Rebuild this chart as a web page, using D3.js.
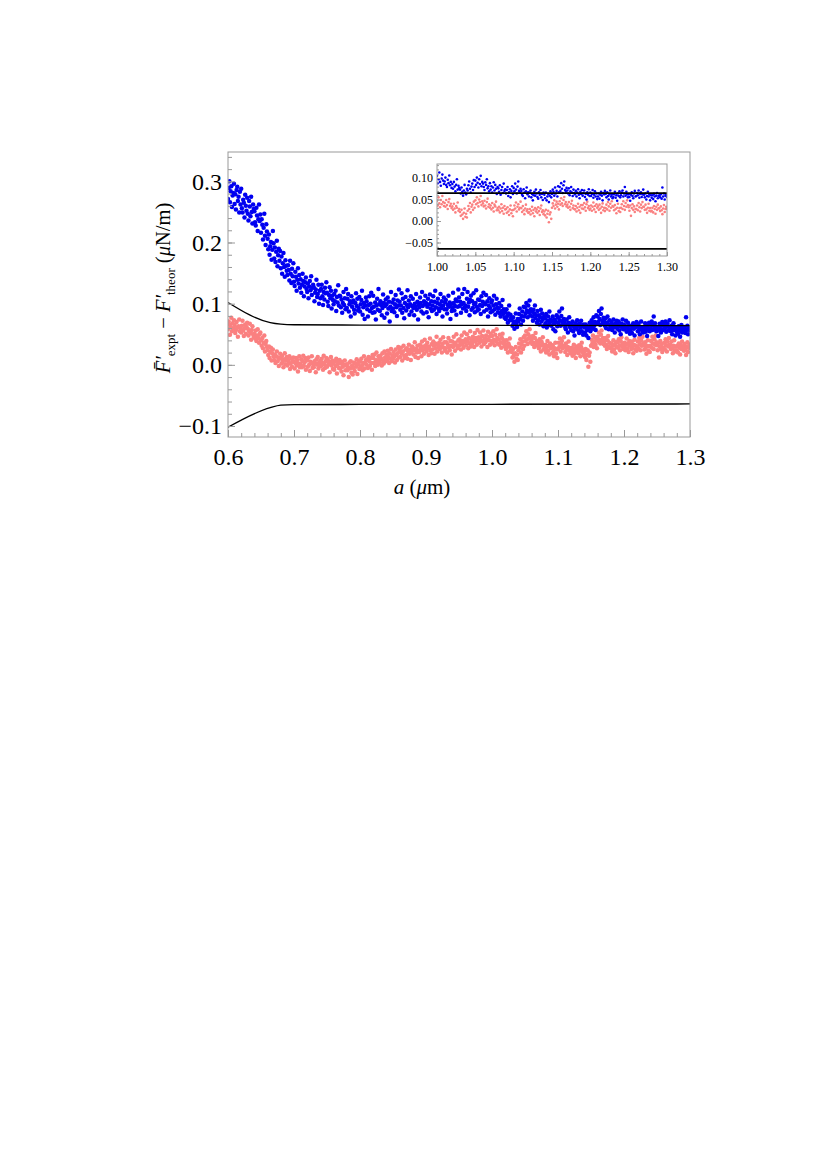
<!DOCTYPE html>
<html><head><meta charset="utf-8">
<script src="https://cdn.jsdelivr.net/npm/d3@7/dist/d3.min.js"></script>
<style>body{margin:0;background:#fff}svg{display:block}</style>
</head><body>
<script>
// ---- DATA ----
// separation a (μm): sampled from 0.600 to 1.300 in steps of 0.001
const aStart = 0.600, aStep = 0.001;
// values in units of 1e-3 μN/m
const blueVals = [
271,289,300,266,284,292,258,277,281,296,
263,279,254,286,291,268,275,249,283,262,
288,256,249,270,265,241,278,260,252,273,
247,236,268,259,243,275,250,231,262,255,
251,233,228,257,244,219,238,262,235,246,
216,238,229,205,224,247,211,196,230,218,
206,189,213,180,194,201,172,188,219,199,
174,192,168,185,203,161,179,190,170,186,
158,177,149,166,183,160,144,171,162,154,
147,163,155,138,170,149,134,157,145,166,
136,129,152,144,121,139,158,133,147,126,
140,118,131,149,137,112,128,135,143,124,
119,133,109,128,137,122,145,114,126,131,
127,104,118,123,139,111,116,131,100,121,
109,124,131,112,98,119,107,126,117,135,
118,103,96,114,127,109,121,92,113,106,
99,116,104,121,88,111,102,130,97,113,
112,94,107,85,101,119,98,109,91,124,
93,108,116,87,99,104,79,112,95,102,
105,90,84,101,117,96,108,89,93,111,
87,99,106,121,82,94,101,75,97,110,
104,91,79,98,112,88,100,118,93,85,
113,95,86,102,74,97,108,90,124,99,
88,104,98,81,93,115,101,77,96,107,
99,84,110,92,103,71,95,119,88,102,
92,107,86,99,114,94,80,105,97,123,
103,90,97,117,85,108,93,76,101,111,
89,98,122,94,105,82,99,112,87,96,
108,93,81,100,95,116,90,103,74,98,
94,110,101,87,119,96,84,104,99,113,
101,86,95,108,78,99,115,92,104,88,
97,112,90,103,121,94,83,101,108,92,
88,99,116,93,104,79,97,110,91,102,
106,91,84,98,113,95,102,75,99,88,
93,118,101,89,96,107,82,104,95,123,
110,96,103,85,99,116,92,101,124,94,
97,88,108,119,95,102,81,106,113,90,
104,93,117,99,86,101,122,95,89,107,
91,106,98,83,112,96,103,118,87,100,
99,114,90,104,79,97,109,93,86,102,
105,88,97,113,91,82,99,108,94,86,
92,101,84,79,96,88,106,83,91,77,
86,75,91,80,69,84,97,73,82,77,
73,64,78,68,59,71,84,66,62,75,
71,83,92,75,66,80,87,72,95,79,
94,84,101,89,78,97,86,105,81,91,
87,79,72,90,84,97,76,81,69,88,
73,81,66,78,90,71,84,75,63,79,
76,68,83,61,72,79,65,87,70,74,
64,72,79,58,67,74,55,70,81,63,
77,69,87,73,64,80,92,70,66,75,
70,61,58,74,66,53,69,78,62,67,
57,66,71,55,63,48,60,68,59,73,
64,56,52,67,61,72,55,63,49,66,
61,53,66,48,57,63,44,59,69,55,
63,73,68,59,78,64,70,57,81,67,
79,70,88,75,65,83,92,72,68,77,
71,64,76,60,69,79,66,58,73,65,
62,70,57,66,74,61,53,68,63,72,
59,65,71,56,63,50,67,61,74,58,
66,58,63,72,54,61,69,57,64,51,
57,64,52,61,68,59,48,65,62,70,
63,55,67,58,50,62,71,57,61,53,
56,62,68,54,60,47,64,58,69,55,
60,66,71,57,64,79,59,68,62,55,
62,56,47,61,67,58,53,64,70,57,
58,65,60,71,54,63,67,56,62,73,
61,55,64,50,58,68,57,62,48,60,
54,60,51,63,57,46,59,65,53,58,
60,55,62,52,78,57,64,50,59,61,
56];
const pinkVals = [
58,71,66,49,62,77,55,68,60,73,
65,52,57,70,61,46,63,74,55,59,
53,64,72,56,47,60,66,51,62,69,
59,48,55,67,52,41,57,63,50,46,
51,43,56,39,48,58,44,36,50,53,
40,31,44,27,36,48,22,34,39,29,
24,16,30,11,21,28,7,19,25,14,
8,17,3,14,22,6,12,-2,10,18,
11,2,15,5,-4,9,19,1,8,13,
-1,8,4,14,-7,2,10,-3,6,12,
5,-6,3,11,-1,8,-11,2,14,-4,
1,9,-4,6,15,-2,4,11,-8,7,
8,-3,12,0,-10,5,3,14,-5,1,
-4,6,2,-12,9,0,13,-6,4,-1,
7,-2,10,3,-8,15,1,-5,6,11,
-3,9,0,5,-12,4,13,-1,7,-7,
3,-8,6,-2,10,-14,1,5,-5,8,
-6,2,-11,5,-3,-17,0,7,-9,-1,
1,-9,-4,-20,4,-6,6,-13,-1,-16,
-5,4,-10,2,-3,9,-15,0,6,-7,
5,-4,10,-1,-9,3,14,-6,2,8,
0,9,-5,13,6,-2,11,3,-8,16,
11,3,17,-2,8,20,5,0,14,9,
4,15,10,-1,19,7,2,22,12,6,
17,8,23,13,3,19,10,26,6,15,
10,21,14,4,25,16,8,19,29,12,
23,13,28,19,7,22,31,15,11,25,
16,27,10,22,33,18,25,8,21,30,
28,17,24,37,13,26,20,31,11,23,
21,33,27,14,38,24,30,18,41,26,
32,22,36,27,16,30,43,24,19,34,
25,38,31,18,35,27,46,22,33,29,
36,26,41,30,20,34,45,28,37,23,
27,37,20,33,44,29,24,39,31,17,
38,29,46,34,23,36,50,31,27,40,
31,42,36,25,48,33,39,28,53,37,
42,32,50,38,27,44,35,55,30,40,
35,46,41,29,52,38,44,33,57,40,
45,36,53,41,30,47,38,56,34,43,
37,48,42,29,54,40,46,33,51,39,
47,36,55,41,32,49,39,58,44,35,
42,33,49,37,28,44,51,35,40,30,
34,26,40,29,20,35,31,43,24,28,
21,12,26,15,5,19,29,10,17,8,
24,35,28,42,20,33,38,26,45,31,
48,39,55,42,34,50,44,58,37,46,
41,34,47,36,29,44,52,33,39,31,
36,27,42,31,22,38,34,45,25,30,
25,33,20,29,39,23,31,17,35,27,
28,19,32,22,14,27,36,18,25,11,
26,36,29,43,22,33,39,27,31,45,
30,21,35,25,16,29,38,23,27,19,
20,28,15,24,33,18,26,11,30,22,
27,19,32,23,14,29,36,21,25,16,
22,13,26,8,17,24,-3,15,20,5,
31,41,35,48,29,38,45,33,40,27,
46,38,53,41,35,49,56,39,44,34,
38,31,44,33,26,40,47,30,36,28,
27,35,22,31,40,25,33,19,37,29,
37,28,42,32,24,39,45,30,35,26,
29,36,24,33,43,27,35,21,39,31,
34,26,38,29,19,33,41,25,31,23,
30,38,27,44,34,24,40,31,46,35,
33,25,37,28,18,31,40,23,30,21,
31,39,28,46,35,26,42,33,48,37,
32,24,36,12,30,39,26,34,21,28,
28,36,25,42,32,22,38,30,44,33,
33,26,38,27,19,31,40,24,30,22,
24,31,20,35,28,17,33,26,38,29,
30,23,34,25,16,29,37,21,28,33,
28];
const valueUnit = 1e-3;
// error-band boundary curves (μN/m)
const bandA     = [0.600, 0.664, 0.680, 0.700, 0.800, 1.000, 1.300];
const bandUpper = [0.102, 0.069, 0.0665, 0.0655, 0.065, 0.0645, 0.064];
const bandLower = [-0.102, -0.070, -0.066, -0.065, -0.0648, -0.0645, -0.064];
// inset
const insetBand = [0.065, -0.065];
const xTicksMain = [0.6,0.7,0.8,0.9,1.0,1.1,1.2,1.3];
const yTicksMain = [-0.1,0.0,0.1,0.2,0.3];
const xTicksInset = [1.00,1.05,1.10,1.15,1.20,1.25,1.30];
const yTicksInset = [-0.05,0.00,0.05,0.10];

// ---- DRAW ----
const W = 827, H = 1170;
const svg = d3.select("body").append("svg").attr("width", W).attr("height", H);
svg.append("rect").attr("width", W).attr("height", H).attr("fill", "#fff");
const SERIF = '"Liberation Serif","Times New Roman",Times,serif';
const frameColor = "#999";

const blue = blueVals.map((v,i)=>({a: aStart + i*aStep, v: v*valueUnit}));
const pink = pinkVals.map((v,i)=>({a: aStart + i*aStep, v: v*valueUnit}));
const band = bandA.map((a,i)=>({a, up: bandUpper[i], lo: bandLower[i]}));

const L = 228, R = 690, T = 152, B = 437;
const x = d3.scaleLinear().domain([0.6, 1.3]).range([L, R]);
const y = d3.scaleLinear().domain([-0.118, 0.348]).range([B, T]);

function styleAxis(g, fs) {
  g.attr("font-family", null).attr("font-size", null);
  g.select(".domain").remove();
  g.selectAll(".tick line").attr("stroke", frameColor);
  g.selectAll(".tick text").style("font-family", SERIF).style("font-size", fs + "px").attr("fill", "#000");
}
function minorTicks(lo, hi, step) {
  const out = []; const n = Math.round((hi - lo) / step);
  for (let i = 0; i <= n; i++) out.push(+(lo + i*step).toFixed(4));
  return out;
}

const main = svg.append("g");
const clipM = svg.append("clipPath").attr("id","clipM");
clipM.append("rect").attr("x", L).attr("y", T).attr("width", R-L).attr("height", B-T);
const plotM = main.append("g").attr("clip-path","url(#clipM)");

plotM.selectAll("circle.pink").data(pink).join("circle").attr("class","pink")
  .attr("cx", d=>x(d.a)).attr("cy", d=>y(d.v)).attr("r", 2.25).attr("fill", "#fa8080");
plotM.selectAll("circle.blue").data(blue).join("circle").attr("class","blue")
  .attr("cx", d=>x(d.a)).attr("cy", d=>y(d.v)).attr("r", 2.25).attr("fill", "#0000f0");

const lineU = d3.line().x(d=>x(d.a)).y(d=>y(d.up)).curve(d3.curveMonotoneX);
const lineL = d3.line().x(d=>x(d.a)).y(d=>y(d.lo)).curve(d3.curveMonotoneX);
plotM.append("path").datum(band).attr("d", lineU).attr("fill","none").attr("stroke","#000").attr("stroke-width",1.3);
plotM.append("path").datum(band).attr("d", lineL).attr("fill","none").attr("stroke","#000").attr("stroke-width",1.3);

// axes main
main.append("g").attr("transform", `translate(0,${B})`)
  .call(d3.axisBottom(x).tickValues(minorTicks(0.6,1.3,0.02)).tickSize(-4).tickFormat(""))
  .call(g=>styleAxis(g, 24));
main.append("g").attr("transform", `translate(0,${B})`)
  .call(d3.axisBottom(x).tickValues(xTicksMain).tickSize(-7).tickPadding(11).tickFormat(d3.format(".1f")))
  .call(g=>styleAxis(g, 24));
main.append("g").attr("transform", `translate(${L},0)`)
  .call(d3.axisLeft(y).tickValues(minorTicks(-0.1,0.34,0.02)).tickSize(-4).tickFormat(""))
  .call(g=>styleAxis(g, 24));
main.append("g").attr("transform", `translate(${L},0)`)
  .call(d3.axisLeft(y).tickValues(yTicksMain).tickSize(-7).tickPadding(6).tickFormat(d3.format(".1f")))
  .call(g=>styleAxis(g, 24));
main.append("rect").attr("x", L).attr("y", T).attr("width", R-L).attr("height", B-T)
  .attr("fill","none").attr("stroke", frameColor).attr("stroke-width", 1);

// axis titles
const xt = svg.append("text").attr("x", 422).attr("y", 494).attr("text-anchor","middle")
  .style("font-family", SERIF).style("font-size", "21px");
xt.append("tspan").attr("font-style","italic").text("a");
xt.append("tspan").text(" (");
xt.append("tspan").attr("font-style","italic").text("μ");
xt.append("tspan").text("m)");

const yt = svg.append("text").attr("transform","translate(170,288) rotate(-90)")
  .attr("text-anchor","middle").style("font-family", SERIF).style("font-size", "20.5px");
yt.append("tspan").attr("font-style","italic").text("F\u0304\u2032");
yt.append("tspan").style("font-size", "13px").attr("dy", 5).text("expt");
yt.append("tspan").attr("dy", -5).text(" \u2212 ");
yt.append("tspan").attr("font-style","italic").text("F\u2032");
yt.append("tspan").style("font-size", "13px").attr("dy", 5).text("theor");
yt.append("tspan").attr("dy", -5).text(" (");
yt.append("tspan").attr("font-style","italic").text("μ");
yt.append("tspan").text("N/m)");

// ---- INSET ----
const iL = 437, iR = 667, iT = 164, iB = 256;
const xi = d3.scaleLinear().domain([1.0, 1.3]).range([iL, iR]);
const yi = d3.scaleLinear().domain([-0.0814, 0.1326]).range([iB, iT]);
const inset = svg.append("g");
inset.append("rect").attr("x", iL).attr("y", iT).attr("width", iR-iL).attr("height", iB-iT).attr("fill","#fff");
const clipI = svg.append("clipPath").attr("id","clipI");
clipI.append("rect").attr("x", iL).attr("y", iT).attr("width", iR-iL).attr("height", iB-iT);
const plotI = inset.append("g").attr("clip-path","url(#clipI)");
const pinkI = pink.filter(d=>d.a >= 0.9995), blueI = blue.filter(d=>d.a >= 0.9995);
plotI.selectAll("circle.pi").data(pinkI).join("circle").attr("class","pi")
  .attr("cx", d=>xi(d.a)).attr("cy", d=>yi(d.v)).attr("r", 1.3).attr("fill", "#fa8080");
plotI.selectAll("circle.bi").data(blueI).join("circle").attr("class","bi")
  .attr("cx", d=>xi(d.a)).attr("cy", d=>yi(d.v)).attr("r", 1.3).attr("fill", "#0000f0");
insetBand.forEach(v=>{
  plotI.append("line").attr("x1", xi(1.0)).attr("x2", xi(1.3)).attr("y1", yi(v)).attr("y2", yi(v))
    .attr("stroke","#000").attr("stroke-width", 1.8);
});
inset.append("g").attr("transform", `translate(0,${iB})`)
  .call(d3.axisBottom(xi).tickValues(minorTicks(1.0,1.3,0.01)).tickSize(-2).tickFormat(""))
  .call(g=>styleAxis(g, 12));
inset.append("g").attr("transform", `translate(0,${iB})`)
  .call(d3.axisBottom(xi).tickValues(xTicksInset).tickSize(-4).tickPadding(6).tickFormat(d3.format(".2f")))
  .call(g=>styleAxis(g, 12));
inset.append("g").attr("transform", `translate(${iL},0)`)
  .call(d3.axisLeft(yi).tickValues(minorTicks(-0.08,0.13,0.01)).tickSize(-2).tickFormat(""))
  .call(g=>styleAxis(g, 12));
inset.append("g").attr("transform", `translate(${iL},0)`)
  .call(d3.axisLeft(yi).tickValues(yTicksInset).tickSize(-4).tickPadding(4).tickFormat(d3.format(".2f")))
  .call(g=>styleAxis(g, 12));
inset.append("rect").attr("x", iL).attr("y", iT).attr("width", iR-iL).attr("height", iB-iT)
  .attr("fill","none").attr("stroke", frameColor).attr("stroke-width", 1);
</script>
</body></html>
